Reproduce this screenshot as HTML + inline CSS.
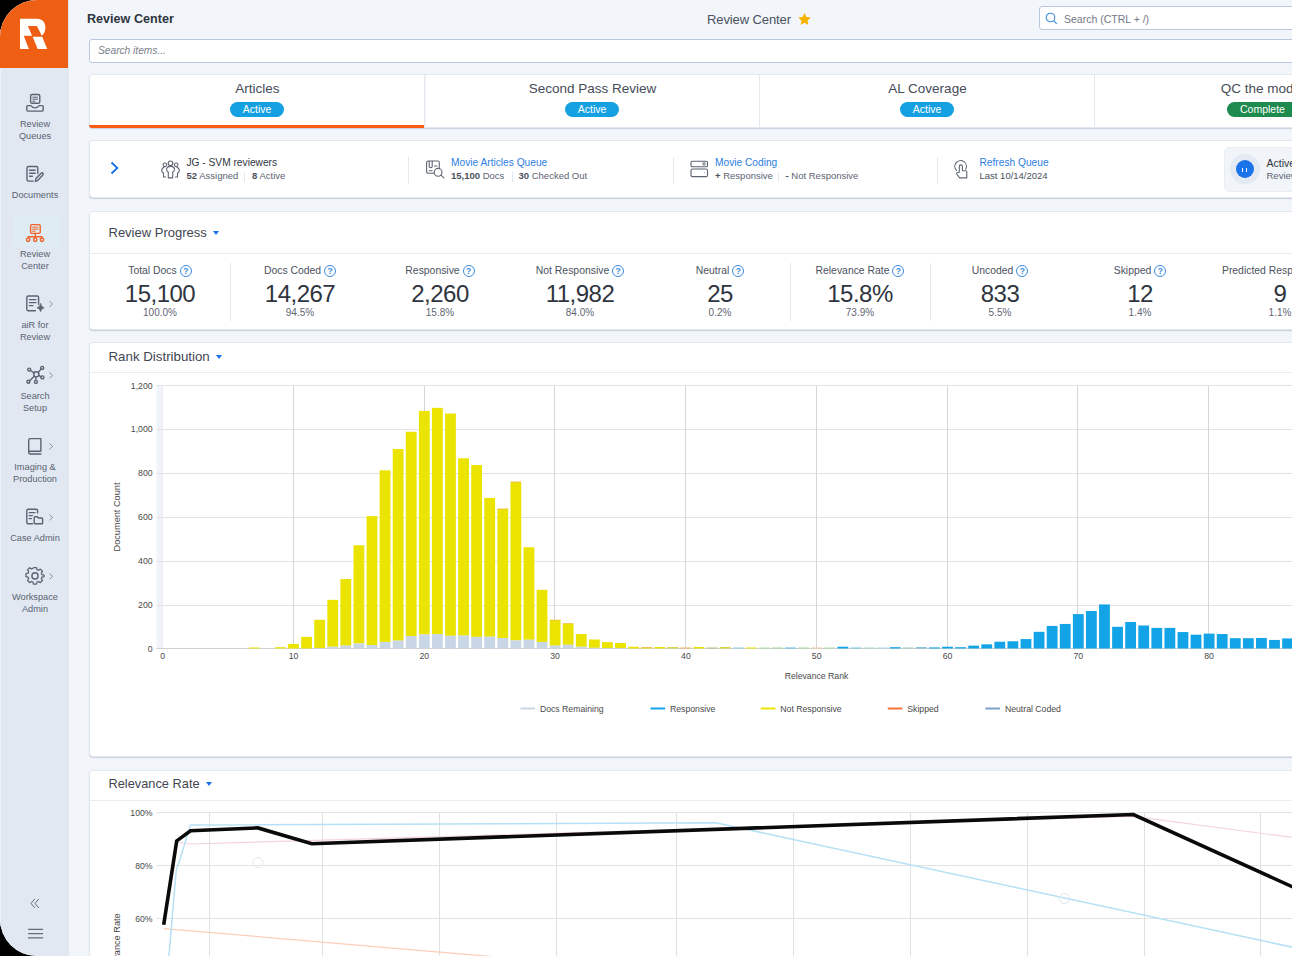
<!DOCTYPE html>
<html><head><meta charset="utf-8"><style>
*{margin:0;padding:0;box-sizing:border-box}
html,body{width:1292px;height:956px;overflow:hidden;background:#000}
body{font-family:"Liberation Sans",sans-serif;position:relative;color:#3f4652}
.abs{position:absolute}
#app{position:absolute;left:0;top:0;width:1292px;height:956px;background:#f2f5fa;border-radius:37px 0 0 37px;overflow:hidden}
#side{position:absolute;left:0;top:0;width:68.6px;height:956px;background:#e1e8f2;border-left:1px solid #eef2f7}
#logo{position:absolute;left:-1px;top:0;width:68px;height:68px;background:#ee5f13}
.nav{position:absolute;left:0;width:68px;text-align:center;font-size:9.2px;line-height:12px;color:#5b6371}
.nav svg{position:absolute}
.chev{position:absolute;left:49px;width:4px;height:6px}
.card{position:absolute;left:89px;width:1215px;background:#fff;border:1px solid #e2e8f0;border-radius:4px;box-shadow:0 1px 1px rgba(120,140,170,.35)}
.t{position:absolute;white-space:nowrap;line-height:1}
.tab{position:absolute;top:0;width:335px;height:52px;text-align:center}
.tab .tt{position:absolute;left:0;right:0;top:7.4px;font-size:13.5px;line-height:1;color:#454c58}
.badge{position:absolute;top:27.4px;height:15px;border-radius:8px;color:#fff;font-size:10.5px;line-height:15px;text-align:center}
.qv{position:absolute;top:0;height:58px}
.l1{position:absolute;top:17px;font-size:10.2px;line-height:1;white-space:nowrap;color:#2f3540}
.l2{position:absolute;top:30.2px;font-size:9.5px;line-height:1;white-space:nowrap;color:#5b6371}
.l2 b{color:#4a515d}
.vsep{position:absolute;width:1px;background:#e3e8ef}
.hdr{position:absolute;left:18.5px;font-size:13px;line-height:1;color:#3f4652;white-space:nowrap}
.caret{display:inline-block;width:0;height:0;border-left:3.5px solid transparent;border-right:3.5px solid transparent;border-top:4.5px solid #1a73e8;margin-left:6px;vertical-align:2px}
.st{position:absolute;top:0;width:140px;text-align:center}
.st .lb{position:absolute;left:0;right:0;top:54.6px;font-size:10.4px;line-height:1;color:#4b5260;white-space:nowrap}
.st .v{position:absolute;left:0;right:0;top:70.1px;font-size:24px;letter-spacing:-0.5px;line-height:1;color:#2f3540}
.st .p{position:absolute;left:0;right:0;top:96.8px;font-size:10px;line-height:1;color:#5f6673}
.q{display:inline-block;width:12px;height:12px;border:1px solid #3d8be0;border-radius:50%;color:#3d8be0;font-size:8.5px;line-height:10.5px;text-align:center;font-weight:bold;margin-left:3px;vertical-align:-1.5px;position:relative;top:-1.5px}
.link{color:#2d7de0}
</style></head><body>
<div id="app">
  <!-- sidebar -->
  <div id="side">
    <div id="logo">
      <svg class="abs" style="left:0;top:0" width="68" height="68" viewBox="0 0 68 68">
        <path fill="#fff" d="M20 18.8H37C42.5 18.8 45.4 22.5 45.4 27.5C45.4 31 44 34 41.8 35.7L36.9 26.1H27.9L32.1 35.7H23.9L24.1 36.8L28.9 49H20Z"/>
        <path fill="#fff" d="M32.7 36.8H42.2L47.2 49H37.7Z"/>
      </svg>
    </div>
    <div class="abs" style="left:12.5px;top:215px;width:46px;height:31.8px;background:#dfecf3"></div>
    <svg class="abs" style="left:-1px;top:0" width="68" height="956" viewBox="0 0 68 956" fill="none" stroke="#5b6371" stroke-width="1.4" stroke-linecap="round" stroke-linejoin="round">
      <!-- review queues -->
      <rect x="30.6" y="94.5" width="9.2" height="8.8" rx="1.6"/>
      <path d="M32.8 97.2H37.6M32.8 99.2H37.6M32.8 101.2H34.8" stroke-width="1"/>
      <path d="M27.8 105.6H30.8Q35 110.2 39.2 105.6H42.2Q43.2 105.6 43.2 106.6V110Q43.2 111.1 42.2 111.1H27.8Q26.8 111.1 26.8 110V106.6Q26.8 105.6 27.8 105.6Z"/>
      <!-- documents -->
      <path d="M37.8 173.6V168Q37.8 166.5 36.3 166.5H28.5Q27 166.5 27 168V179.6Q27 181.1 28.5 181.1H33.2"/>
      <path d="M29.6 170.2H35.2M29.6 173.2H35.2M29.6 176.2H32.4"/>
      <path d="M35.4 181.4L35.9 178.6L41.2 173.3Q42.3 172.2 43 173.3Q43.7 174.2 42.6 175.3L37.6 180.6Z"/>
      <!-- review center (active) -->
      <g stroke="#f0622a">
        <rect x="30.6" y="224.6" width="9.6" height="8.8" rx="1.3"/>
        <path d="M32.6 227.2H38M32.6 229.2H38M32.6 231.2H35.2" stroke-width="1"/>
        <path d="M35.4 233.4V236.7M28.2 238V236.7H42V238M35.2 236.7V238"/>
        <circle cx="28.2" cy="239.8" r="1.7"/><circle cx="35.2" cy="239.8" r="1.7"/><circle cx="42" cy="239.8" r="1.7"/>
      </g>
      <!-- aiR -->
      <path d="M38.6 304.2V297.6Q38.6 296 37 296H28.4Q26.8 296 26.8 297.6V309.2Q26.8 310.8 28.4 310.8H35.4"/>
      <path d="M29.4 299.6H36M29.4 302.6H36M29.4 305.6H33"/>
      <path d="M40.6 303.8Q41.2 307.2 44.2 307.8Q41.2 308.4 40.6 311.6Q40 308.4 37 307.8Q40 307.2 40.6 303.8Z" fill="#5b6371" stroke-width="0.8"/>
      <!-- search setup -->
      <circle cx="36.3" cy="374.3" r="2.6"/>
      <circle cx="29.2" cy="369.6" r="1.5"/><circle cx="42.2" cy="367.9" r="1.5"/><circle cx="42.4" cy="377.4" r="1.5"/><circle cx="28.4" cy="381.8" r="1.5"/><circle cx="35.9" cy="381.9" r="1.5"/>
      <path d="M30.4 370.5L34.2 372.9M41.1 368.8L38.2 372.6M41 376.9L38.8 375.2M29.5 380.8L34.4 376.2M35.9 380.4V376.9"/>
      <!-- imaging -->
      <path d="M28.7 452.2V440.2Q28.7 438.6 30.3 438.6H40.9V451.2H30.3Q28.7 451.2 28.7 452.6Q28.7 454 30.3 454H40.9"/>
      <!-- case admin -->
      <path d="M37.6 513V510.6Q37.6 509.2 36.2 509.2H28.2Q26.8 509.2 26.8 510.6V522.4Q26.8 523.8 28.2 523.8H32.4"/>
      <path d="M29.2 512.6H35M29.2 515.6H32.4M29.2 518.6H31.4"/>
      <path d="M34.2 523V517.6Q34.2 516.8 35 516.8H37.4L38.4 518H41.8Q42.6 518 42.6 518.8V523Q42.6 523.8 41.8 523.8H35Q34.2 523.8 34.2 523Z"/>
      <!-- gear -->
      <circle cx="35" cy="575.9" r="3.1"/>
      <path d="M33.3 567.6H36.7L37.2 569.9L38.9 570.6L40.9 569.3L43.3 571.7L42 573.7L42.7 575.4L45 575.9V576.0L45 577.7L42.7 578.2L42 579.9L43.3 581.9L40.9 584.3L38.9 583L37.2 583.7L36.7 586H33.3L32.8 583.7L31.1 583L29.1 584.3L26.7 581.9L28 579.9L27.3 578.2L25 577.7V574.3L27.3 573.8L28 572.1L26.7 570.1L29.1 567.7L31.1 569L32.8 568.3Z" transform="translate(35 575.9) scale(0.9) translate(-35 -576.8)"/>
      <!-- chevrons -->
      <g stroke="#8a929e" stroke-width="1">
        <path d="M49.8 301.4L52.6 304L49.8 306.6"/>
        <path d="M49.8 372.8L52.6 375.4L49.8 378"/>
        <path d="M49.8 443.8L52.6 446.4L49.8 449"/>
        <path d="M49.8 514.8L52.6 517.4L49.8 520"/>
        <path d="M49.8 573.9L52.6 576.5L49.8 579.1"/>
      </g>
      <!-- bottom -->
      <path d="M34.6 899.2L31 903.4L34.6 907.6M38.6 899.2L35 903.4L38.6 907.6" stroke-width="1" stroke="#646b78"/>
      <path d="M28.6 929.3H42.6M28.6 933.6H42.6M28.6 937.9H42.6" stroke-width="1.3" stroke="#646b78"/>
    </svg>
    <div class="nav" style="top:117.8px">Review<br>Queues</div>
    <div class="nav" style="top:188.8px">Documents</div>
    <div class="nav" style="top:247.6px">Review<br>Center</div>
    <div class="nav" style="top:319px">aiR for<br>Review</div>
    <div class="nav" style="top:389.7px">Search<br>Setup</div>
    <div class="nav" style="top:460.7px">Imaging &amp;<br>Production</div>
    <div class="nav" style="top:531.6px">Case Admin</div>
    <div class="nav" style="top:590.5px">Workspace<br>Admin</div>
  </div>

  <!-- header -->
  <div class="t" style="left:87px;top:12.8px;font-size:12.6px;font-weight:bold;color:#2f3540">Review Center</div>
  <div class="t" style="left:707px;top:13.1px;font-size:13px;letter-spacing:-0.1px;color:#4b5260">Review Center</div>
  <svg class="abs" style="left:797.6px;top:12.6px" width="13" height="12" viewBox="0 0 24 23"><path fill="#f4b400" d="M12 0l3.7 7.5 8.3 1.2-6 5.8 1.4 8.3L12 18.9 4.6 22.8 6 14.5 0 8.7l8.3-1.2z"/></svg>
  <div class="abs" style="left:1039px;top:6px;width:300px;height:24px;background:#fff;border:1px solid #b9c8dc;border-radius:3px"></div>
  <svg class="abs" style="left:1044.5px;top:12px" width="13" height="13" viewBox="0 0 13 13"><circle cx="5.5" cy="5.5" r="4.3" fill="none" stroke="#3a8de0" stroke-width="1.1"/><path d="M8.6 8.6L11.8 11.8" stroke="#3a8de0" stroke-width="1.2"/></svg>
  <div class="t" style="left:1064px;top:13.9px;font-size:10.5px;color:#727985">Search (CTRL + /)</div>

  <div class="abs" style="left:89px;top:39px;width:1250px;height:24px;background:#fff;border:1px solid #b9c8dc;border-radius:3px"></div>
  <div class="t" style="left:98px;top:46px;font-size:10.2px;font-style:italic;color:#7a808a">Search items...</div>

  <!-- tabs -->
  <div class="card" style="top:74px;height:54px">
    <div class="tab" style="left:0"><div class="tt">Articles</div><div class="badge" style="left:139.8px;width:54.5px;background:#15a0e1">Active</div></div>
    <div class="tab" style="left:335px"><div class="tt">Second Pass Review</div><div class="badge" style="left:139.8px;width:54.5px;background:#15a0e1">Active</div></div>
    <div class="tab" style="left:670px"><div class="tt">AL Coverage</div><div class="badge" style="left:139.8px;width:54.5px;background:#15a0e1">Active</div></div>
    <div class="tab" style="left:1005px"><div class="tt">QC the model</div><div class="badge" style="left:131.5px;width:72px;background:#1d8a4e">Complete</div></div>
    <div class="vsep" style="left:669px;top:0;height:52px"></div>
    <div class="vsep" style="left:1004px;top:0;height:52px"></div>
    <div class="abs" style="left:334px;top:0;width:3px;height:53px;background:linear-gradient(90deg,#dfe3ea,rgba(235,238,243,0.6) 50%,rgba(255,255,255,0))"></div>
    <div class="abs" style="left:-1px;top:50px;width:335px;height:3px;background:#fd5a12;border-radius:0 0 0 4px"></div>
  </div>

  <!-- queue info -->
  <div class="card" style="top:140px;height:58px">
    <svg class="abs" style="left:18.6px;top:18.8px" width="12" height="16" viewBox="0 0 12 16"><path d="M2.5 2.5L8.3 8L2.5 13.5" fill="none" stroke="#1a73e8" stroke-width="1.9"/></svg>
    <svg class="abs" style="left:71px;top:18.5px" width="20" height="20" viewBox="0 0 20 20" fill="none" stroke="#5f6673" stroke-width="1.1" stroke-linejoin="round">
      <circle cx="9.5" cy="3.3" r="2.3"/><circle cx="3.9" cy="4.8" r="1.8"/><circle cx="15.2" cy="4.8" r="1.8"/>
      <path d="M7.3 17.9V12Q5.6 11.5 5.6 9.5Q5.6 6.4 9.5 6.4Q13.5 6.4 13.5 9.5Q13.5 11.5 11.7 12V17.9Z"/>
      <path d="M3.4 7Q0.7 8 0.7 10.7Q0.7 12.3 2.5 12.9V17H5M15.6 7Q18.3 8 18.3 10.7Q18.3 12.3 16.5 12.9V17H14"/>
    </svg>
    <div class="l1" style="left:96.5px">JG - SVM reviewers</div>
    <div class="l2" style="left:96.5px"><b>52</b> Assigned</div>
    <div class="vsep" style="left:154.3px;top:31px;height:10px"></div>
    <div class="l2" style="left:162px"><b>8</b> Active</div>
    <div class="vsep" style="left:318px;top:15.5px;height:27px"></div>

    <svg class="abs" style="left:335.5px;top:18.5px" width="20" height="20" viewBox="0 0 20 20" fill="none" stroke="#5f6673" stroke-width="1.1" stroke-linecap="round">
      <path d="M8.2 13.2H2.2Q0.6 13.2 0.6 11.6V2.6Q0.6 1 2.2 1H11.7Q13.3 1 13.3 2.6V7.6"/>
      <path d="M3.2 1.2V6.4Q3.2 7.6 4.7 7.6Q6.2 7.6 6.2 6.4V1.2"/>
      <path d="M8.4 6H11M3.2 10.8H6.2"/>
      <circle cx="12.1" cy="12.3" r="3.9"/><path d="M14.9 15.1L18 17.9"/>
    </svg>
    <div class="l1 link" style="left:361px">Movie Articles Queue</div>
    <div class="l2" style="left:361px"><b>15,100</b> Docs</div>
    <div class="vsep" style="left:421.5px;top:31px;height:10px"></div>
    <div class="l2" style="left:428.5px"><b>30</b> Checked Out</div>
    <div class="vsep" style="left:583px;top:15.5px;height:27px"></div>

    <svg class="abs" style="left:600px;top:19px" width="19" height="19" viewBox="0 0 19 19" fill="none" stroke="#5b6371" stroke-width="1.1">
      <rect x="1" y="1.2" width="16.5" height="5.6" rx="1.3"/><rect x="1" y="9" width="16.5" height="7.6" rx="1.3"/>
      <rect x="13" y="2.9" width="2" height="2" stroke-width="0.8"/><path d="M14.5 12.8H15"/>
    </svg>
    <div class="l1 link" style="left:625px">Movie Coding</div>
    <div class="l2" style="left:625px"><b>+</b> Responsive</div>
    <div class="vsep" style="left:688px;top:31px;height:10px"></div>
    <div class="l2" style="left:695.5px"><b>-</b> Not Responsive</div>
    <div class="vsep" style="left:847px;top:15.5px;height:27px"></div>

    <svg class="abs" style="left:864px;top:18.5px" width="16" height="20" viewBox="0 0 16 20" fill="none" stroke="#5f6673" stroke-width="1.1" stroke-linejoin="round" stroke-linecap="round">
      <path d="M2.6 10.6A5.8 5.8 0 1 1 11.7 9.2"/>
      <path d="M5.3 12.2V6.6Q5.3 4.9 6.85 4.9Q8.4 4.9 8.4 6.6V10.7H11.6Q12.8 10.7 12.8 11.9V17.9H5.6L2.8 14Q2.3 13.2 3.1 12.8L5.3 12.2"/>
    </svg>
    <div class="l1 link" style="left:889.5px">Refresh Queue</div>
    <div class="l2" style="left:889.5px;color:#4a515d">Last 10/14/2024</div>

    <div class="abs" style="left:1134px;top:5.9px;width:200px;height:45px;background:#f1f5fa;border:1px solid #e8edf4;border-radius:6px"></div>
    <div class="abs" style="left:1140px;top:13.4px;width:29.7px;height:29.7px;border-radius:50%;background:#e3eaf3"></div>
    <div class="abs" style="left:1146px;top:19px;width:18px;height:18px;border-radius:50%;background:#1a73e8"></div>
    <div class="abs" style="left:1152.2px;top:26.6px;width:1.3px;height:4.6px;background:#fff"></div>
    <div class="abs" style="left:1155.9px;top:26.6px;width:1.3px;height:4.6px;background:#fff"></div>
    <div class="l1" style="left:1176.5px;font-size:10.5px;color:#2f3540">Active</div>
    <div class="l2" style="left:1176.5px;color:#5b6371">Review</div>
  </div>

  <!-- review progress -->
  <div class="card" style="top:210.5px;height:119.5px">
    <div class="hdr" style="top:14.5px">Review Progress<span class="caret"></span></div>
    <div class="abs" style="left:0;top:41px;width:100%;height:1px;background:#e8edf3"></div>
    <div class="vsep" style="left:139.5px;top:51px;height:58px"></div>
    <div class="vsep" style="left:699.5px;top:51px;height:58px"></div>
    <div class="vsep" style="left:839.5px;top:51px;height:58px"></div>
    <div class="st" style="left:0"><div class="lb">Total Docs<span class="q">?</span></div><div class="v">15,100</div><div class="p">100.0%</div></div>
    <div class="st" style="left:140px"><div class="lb">Docs Coded<span class="q">?</span></div><div class="v">14,267</div><div class="p">94.5%</div></div>
    <div class="st" style="left:280px"><div class="lb">Responsive<span class="q">?</span></div><div class="v">2,260</div><div class="p">15.8%</div></div>
    <div class="st" style="left:420px"><div class="lb">Not Responsive<span class="q">?</span></div><div class="v">11,982</div><div class="p">84.0%</div></div>
    <div class="st" style="left:560px"><div class="lb">Neutral<span class="q">?</span></div><div class="v">25</div><div class="p">0.2%</div></div>
    <div class="st" style="left:700px"><div class="lb">Relevance Rate<span class="q">?</span></div><div class="v">15.8%</div><div class="p">73.9%</div></div>
    <div class="st" style="left:840px"><div class="lb">Uncoded<span class="q">?</span></div><div class="v">833</div><div class="p">5.5%</div></div>
    <div class="st" style="left:980px"><div class="lb">Skipped<span class="q">?</span></div><div class="v">12</div><div class="p">1.4%</div></div>
    <div class="st" style="left:1120px"><div class="lb">Predicted Responsive<span class="q">?</span></div><div class="v">9</div><div class="p">1.1%</div></div>
  </div>


  <!-- rank distribution -->
  <div class="card" style="top:342px;height:415px">
    <div class="hdr" style="top:7.2px;font-size:13.3px">Rank Distribution<span class="caret"></span></div>
    <div class="abs" style="left:0;top:29px;width:100%;height:1px;background:#e8edf3"></div>
    <svg class="abs" style="left:0;top:0" width="1213" height="413" viewBox="90 343 1213 413" font-family="Liberation Sans" font-size="8.7" fill="#4a4a4a">
<rect x="156.5" y="385" width="6" height="264" fill="#f0f4fa"/>
<path d="M156.5 648.5H1310" stroke="#cfd0d2" stroke-width="1"/>
<path d="M156.5 605.5H1310" stroke="#e3e3e5" stroke-width="1"/>
<path d="M156.5 561.5H1310" stroke="#e3e3e5" stroke-width="1"/>
<path d="M156.5 517.5H1310" stroke="#e3e3e5" stroke-width="1"/>
<path d="M156.5 473.5H1310" stroke="#e3e3e5" stroke-width="1"/>
<path d="M156.5 429.5H1310" stroke="#e3e3e5" stroke-width="1"/>
<path d="M156.5 385.5H1310" stroke="#e3e3e5" stroke-width="1"/>
<path d="M162.5 385.5V648" stroke="#ececee" stroke-width="1"/>
<path d="M293.5 385.5V648" stroke="#d5d6d8" stroke-width="1"/>
<path d="M424.5 385.5V648" stroke="#d5d6d8" stroke-width="1"/>
<path d="M554.5 385.5V648" stroke="#d5d6d8" stroke-width="1"/>
<path d="M685.5 385.5V648" stroke="#d5d6d8" stroke-width="1"/>
<path d="M816.5 385.5V648" stroke="#d5d6d8" stroke-width="1"/>
<path d="M947.5 385.5V648" stroke="#d5d6d8" stroke-width="1"/>
<path d="M1077.5 385.5V648" stroke="#d5d6d8" stroke-width="1"/>
<path d="M1208.5 385.5V648" stroke="#d5d6d8" stroke-width="1"/>
<rect x="248.86" y="647.50" width="10.8" height="1.00" fill="#eae400"/>
<rect x="275.02" y="647.18" width="10.8" height="1.32" fill="#eae400"/>
<rect x="288.10" y="643.90" width="10.8" height="4.60" fill="#eae400"/>
<rect x="301.18" y="636.88" width="10.8" height="11.62" fill="#eae400"/>
<rect x="314.26" y="619.79" width="10.8" height="28.27" fill="#eae400"/>
<rect x="314.26" y="648.06" width="10.8" height="0.44" fill="#c9d6e6"/>
<rect x="327.34" y="599.84" width="10.8" height="46.90" fill="#eae400"/>
<rect x="327.34" y="646.75" width="10.8" height="1.75" fill="#c9d6e6"/>
<rect x="340.42" y="579.02" width="10.8" height="66.63" fill="#eae400"/>
<rect x="340.42" y="645.65" width="10.8" height="2.85" fill="#c9d6e6"/>
<rect x="353.50" y="545.27" width="10.8" height="98.19" fill="#eae400"/>
<rect x="353.50" y="643.46" width="10.8" height="5.04" fill="#c9d6e6"/>
<rect x="366.58" y="516.12" width="10.8" height="128.87" fill="#eae400"/>
<rect x="366.58" y="644.99" width="10.8" height="3.51" fill="#c9d6e6"/>
<rect x="379.66" y="470.31" width="10.8" height="171.61" fill="#eae400"/>
<rect x="379.66" y="641.92" width="10.8" height="6.58" fill="#c9d6e6"/>
<rect x="392.74" y="449.06" width="10.8" height="191.55" fill="#eae400"/>
<rect x="392.74" y="640.61" width="10.8" height="7.89" fill="#c9d6e6"/>
<rect x="405.82" y="431.74" width="10.8" height="204.27" fill="#eae400"/>
<rect x="405.82" y="636.01" width="10.8" height="12.49" fill="#c9d6e6"/>
<rect x="418.90" y="410.92" width="10.8" height="223.55" fill="#eae400"/>
<rect x="418.90" y="634.47" width="10.8" height="14.03" fill="#c9d6e6"/>
<rect x="431.98" y="407.85" width="10.8" height="226.18" fill="#eae400"/>
<rect x="431.98" y="634.03" width="10.8" height="14.47" fill="#c9d6e6"/>
<rect x="445.06" y="413.55" width="10.8" height="222.24" fill="#eae400"/>
<rect x="445.06" y="635.79" width="10.8" height="12.71" fill="#c9d6e6"/>
<rect x="458.14" y="458.26" width="10.8" height="177.31" fill="#eae400"/>
<rect x="458.14" y="635.57" width="10.8" height="12.93" fill="#c9d6e6"/>
<rect x="471.22" y="465.05" width="10.8" height="171.83" fill="#eae400"/>
<rect x="471.22" y="636.88" width="10.8" height="11.62" fill="#c9d6e6"/>
<rect x="484.30" y="497.93" width="10.8" height="138.73" fill="#eae400"/>
<rect x="484.30" y="636.66" width="10.8" height="11.84" fill="#c9d6e6"/>
<rect x="497.38" y="508.67" width="10.8" height="129.31" fill="#eae400"/>
<rect x="497.38" y="637.98" width="10.8" height="10.52" fill="#c9d6e6"/>
<rect x="497.38" y="508.67" width="10.8" height="0.8" fill="#f59a7a" opacity="0.55"/>
<rect x="510.46" y="481.71" width="10.8" height="158.68" fill="#eae400"/>
<rect x="510.46" y="640.39" width="10.8" height="8.11" fill="#c9d6e6"/>
<rect x="510.46" y="481.71" width="10.8" height="0.8" fill="#f59a7a" opacity="0.55"/>
<rect x="523.54" y="547.24" width="10.8" height="92.49" fill="#eae400"/>
<rect x="523.54" y="639.73" width="10.8" height="8.77" fill="#c9d6e6"/>
<rect x="536.62" y="589.76" width="10.8" height="52.16" fill="#eae400"/>
<rect x="536.62" y="641.92" width="10.8" height="6.58" fill="#c9d6e6"/>
<rect x="549.70" y="619.79" width="10.8" height="25.86" fill="#eae400"/>
<rect x="549.70" y="645.65" width="10.8" height="2.85" fill="#c9d6e6"/>
<rect x="549.70" y="619.79" width="10.8" height="0.8" fill="#f59a7a" opacity="0.55"/>
<rect x="562.78" y="623.30" width="10.8" height="21.48" fill="#eae400"/>
<rect x="562.78" y="644.77" width="10.8" height="3.73" fill="#c9d6e6"/>
<rect x="562.78" y="623.30" width="10.8" height="0.8" fill="#f59a7a" opacity="0.55"/>
<rect x="575.86" y="634.03" width="10.8" height="12.71" fill="#eae400"/>
<rect x="575.86" y="646.75" width="10.8" height="1.75" fill="#c9d6e6"/>
<rect x="588.94" y="639.51" width="10.8" height="8.33" fill="#eae400"/>
<rect x="588.94" y="647.84" width="10.8" height="0.66" fill="#c9d6e6"/>
<rect x="602.02" y="642.14" width="10.8" height="5.92" fill="#eae400"/>
<rect x="602.02" y="648.06" width="10.8" height="0.44" fill="#c9d6e6"/>
<rect x="615.10" y="643.02" width="10.8" height="5.04" fill="#eae400"/>
<rect x="615.10" y="648.06" width="10.8" height="0.44" fill="#c9d6e6"/>
<rect x="628.18" y="646.75" width="10.8" height="1.75" fill="#eae400"/>
<rect x="641.26" y="647.18" width="10.8" height="1.32" fill="#eae400"/>
<rect x="641.26" y="647.18" width="10.8" height="0.8" fill="#f59a7a" opacity="0.55"/>
<rect x="654.34" y="646.97" width="10.8" height="1.53" fill="#eae400"/>
<rect x="667.42" y="646.97" width="10.8" height="1.53" fill="#d8d64a"/>
<rect x="680.50" y="647.50" width="10.8" height="1.00" fill="#f0b060"/>
<rect x="693.58" y="646.97" width="10.8" height="1.53" fill="#eae400"/>
<rect x="706.66" y="647.50" width="10.8" height="1.00" fill="#a8c878"/>
<rect x="719.74" y="646.97" width="10.8" height="1.53" fill="#d8d640"/>
<rect x="732.82" y="647.50" width="10.8" height="1.00" fill="#8ccbec"/>
<rect x="745.90" y="647.50" width="10.8" height="1.00" fill="#eae400"/>
<rect x="758.98" y="647.50" width="10.8" height="1.00" fill="#b8dca8"/>
<rect x="772.06" y="647.50" width="10.8" height="1.00" fill="#a8d0a0"/>
<rect x="785.14" y="647.50" width="10.8" height="1.00" fill="#5fbbe8"/>
<rect x="798.22" y="647.50" width="10.8" height="1.00" fill="#a8d898"/>
<rect x="811.30" y="647.50" width="10.8" height="1.00" fill="#f0c8a0"/>
<rect x="824.38" y="647.50" width="10.8" height="1.00" fill="#b0dcb0"/>
<rect x="837.46" y="646.75" width="10.8" height="1.75" fill="#12a4e6"/>
<rect x="850.54" y="647.50" width="10.8" height="1.00" fill="#6cc0ea"/>
<rect x="863.62" y="647.50" width="10.8" height="1.00" fill="#a8d8c0"/>
<rect x="876.70" y="647.50" width="10.8" height="1.00" fill="#a8d8f0"/>
<rect x="889.78" y="647.18" width="10.8" height="1.32" fill="#12a4e6"/>
<rect x="902.86" y="647.50" width="10.8" height="1.00" fill="#a0d0b8"/>
<rect x="915.94" y="647.18" width="10.8" height="1.32" fill="#70b8d8"/>
<rect x="929.02" y="647.40" width="10.8" height="1.10" fill="#12a4e6"/>
<rect x="942.10" y="646.75" width="10.8" height="1.75" fill="#12a4e6"/>
<rect x="955.18" y="647.18" width="10.8" height="1.32" fill="#12a4e6"/>
<rect x="968.26" y="645.65" width="10.8" height="2.85" fill="#12a4e6"/>
<rect x="981.34" y="644.34" width="10.8" height="4.16" fill="#12a4e6"/>
<rect x="994.42" y="641.71" width="10.8" height="6.79" fill="#12a4e6"/>
<rect x="1007.50" y="641.27" width="10.8" height="7.23" fill="#12a4e6"/>
<rect x="1020.58" y="639.08" width="10.8" height="9.42" fill="#12a4e6"/>
<rect x="1033.66" y="631.84" width="10.8" height="16.66" fill="#12a4e6"/>
<rect x="1046.74" y="625.93" width="10.8" height="22.57" fill="#12a4e6"/>
<rect x="1059.82" y="623.95" width="10.8" height="24.55" fill="#12a4e6"/>
<rect x="1072.90" y="614.09" width="10.8" height="34.41" fill="#12a4e6"/>
<rect x="1085.98" y="611.02" width="10.8" height="37.48" fill="#12a4e6"/>
<rect x="1099.06" y="604.45" width="10.8" height="44.05" fill="#12a4e6"/>
<rect x="1112.14" y="626.80" width="10.8" height="21.70" fill="#12a4e6"/>
<rect x="1125.22" y="621.98" width="10.8" height="26.52" fill="#12a4e6"/>
<rect x="1138.30" y="625.49" width="10.8" height="23.01" fill="#12a4e6"/>
<rect x="1151.38" y="627.90" width="10.8" height="20.60" fill="#12a4e6"/>
<rect x="1164.46" y="627.90" width="10.8" height="20.60" fill="#12a4e6"/>
<rect x="1177.54" y="632.06" width="10.8" height="16.44" fill="#12a4e6"/>
<rect x="1190.62" y="634.69" width="10.8" height="13.81" fill="#12a4e6"/>
<rect x="1203.70" y="633.60" width="10.8" height="14.90" fill="#12a4e6"/>
<rect x="1216.78" y="634.03" width="10.8" height="14.47" fill="#12a4e6"/>
<rect x="1229.86" y="638.20" width="10.8" height="10.30" fill="#12a4e6"/>
<rect x="1242.94" y="638.20" width="10.8" height="10.30" fill="#12a4e6"/>
<rect x="1256.02" y="637.98" width="10.8" height="10.52" fill="#12a4e6"/>
<rect x="1269.10" y="639.95" width="10.8" height="8.55" fill="#12a4e6"/>
<rect x="1282.18" y="638.42" width="10.8" height="10.08" fill="#12a4e6"/>
<rect x="1295.26" y="638.86" width="10.8" height="9.64" fill="#12a4e6"/>
<rect x="1308.34" y="639.29" width="10.8" height="9.21" fill="#12a4e6"/>
<text x="152.6" y="651.5" text-anchor="end">0</text>
<text x="152.6" y="607.7" text-anchor="end">200</text>
<text x="152.6" y="563.8" text-anchor="end">400</text>
<text x="152.6" y="520.0" text-anchor="end">600</text>
<text x="152.6" y="476.2" text-anchor="end">800</text>
<text x="152.6" y="432.3" text-anchor="end">1,000</text>
<text x="152.6" y="388.5" text-anchor="end">1,200</text>
<text x="162.7" y="659.4" text-anchor="middle">0</text>
<text x="293.5" y="659.4" text-anchor="middle">10</text>
<text x="424.3" y="659.4" text-anchor="middle">20</text>
<text x="555.1" y="659.4" text-anchor="middle">30</text>
<text x="685.9" y="659.4" text-anchor="middle">40</text>
<text x="816.7" y="659.4" text-anchor="middle">50</text>
<text x="947.5" y="659.4" text-anchor="middle">60</text>
<text x="1078.3" y="659.4" text-anchor="middle">70</text>
<text x="1209.1" y="659.4" text-anchor="middle">80</text>
<text x="816.5" y="678.6" text-anchor="middle">Relevance Rank</text>
<text transform="translate(119.7 517) rotate(-90)" text-anchor="middle" font-size="9.2">Document Count</text>
<path d="M520.4 708.5H535.0" stroke="#c9d6e6" stroke-width="2"/>
<text x="539.9" y="711.6">Docs Remaining</text>
<path d="M650.5 708.5H665.1" stroke="#12a4e6" stroke-width="2"/>
<text x="670.0" y="711.6">Responsive</text>
<path d="M760.8 708.5H775.4" stroke="#eae400" stroke-width="2"/>
<text x="780.3" y="711.6">Not Responsive</text>
<path d="M887.8 708.5H902.4" stroke="#f7743a" stroke-width="2"/>
<text x="907.3" y="711.6">Skipped</text>
<path d="M985.4 708.5H1000.0" stroke="#7f9fc8" stroke-width="2"/>
<text x="1004.9" y="711.6">Neutral Coded</text>
    </svg>
  </div>

  <!-- relevance rate -->
  <div class="card" style="top:770px;height:220px">
    <div class="hdr" style="top:7.3px;font-size:12.8px">Relevance Rate<span class="caret"></span></div>
    <div class="abs" style="left:0;top:28.5px;width:100%;height:1px;background:#e8edf3"></div>
    <svg class="abs" style="left:0;top:0" width="1213" height="218" viewBox="90 771 1213 218" font-family="Liberation Sans" font-size="8.7" fill="#4a4a4a">
<path d="M156.5 812.5H1310" stroke="#e3e3e5"/>
<path d="M156.5 865.5H1310" stroke="#e3e3e5"/>
<path d="M156.5 918.5H1310" stroke="#e3e3e5"/>
<path d="M209.5 812V960" stroke="#e0e1e3"/>
<path d="M322.5 812V960" stroke="#e0e1e3"/>
<path d="M439.5 812V960" stroke="#e0e1e3"/>
<path d="M556.5 812V960" stroke="#e0e1e3"/>
<path d="M676.5 812V960" stroke="#e0e1e3"/>
<path d="M793.5 812V960" stroke="#e0e1e3"/>
<path d="M910.5 812V960" stroke="#e0e1e3"/>
<path d="M1027.5 812V960" stroke="#e0e1e3"/>
<path d="M1144.5 812V960" stroke="#e0e1e3"/>
<path d="M1260.5 812V960" stroke="#e0e1e3"/>
<text x="152.6" y="815.5" text-anchor="end">100%</text>
<text x="152.6" y="868.5" text-anchor="end">80%</text>
<text x="152.6" y="921.5" text-anchor="end">60%</text>
<text transform="translate(119.7 946) rotate(-90)" text-anchor="middle" font-size="9.2">Relevance Rate</text>
<path d="M163.7 928.6L484.4 955.9L520 959" stroke="#fbcfb8" stroke-width="1.3" fill="none"/>
<path d="M177.5 842L190.5 844L1133.4 816.3L1310 839.8" stroke="#f4d3de" stroke-width="1.2" fill="none"/>
<path d="M168.6 960L176.2 870.6L179.9 859.4L190.5 825.1L715.7 822.7L1310 951" stroke="#b6e0f5" stroke-width="1.5" fill="none"/>
<circle cx="257.9" cy="862.6" r="5" fill="none" stroke="#e6e8ec" stroke-width="1"/>
<circle cx="1064.5" cy="898.5" r="5" fill="none" stroke="#dfe6ee" stroke-width="1"/>
<path d="M163.7 924.8L176.7 840.9L190.5 830.7L257.9 827.9L311.8 843.7L1133.4 814.5L1310 894.8" stroke="#0a0a0a" stroke-width="3.6" fill="none" stroke-linejoin="miter"/>
    </svg>
  </div>
</div>
</body></html>
